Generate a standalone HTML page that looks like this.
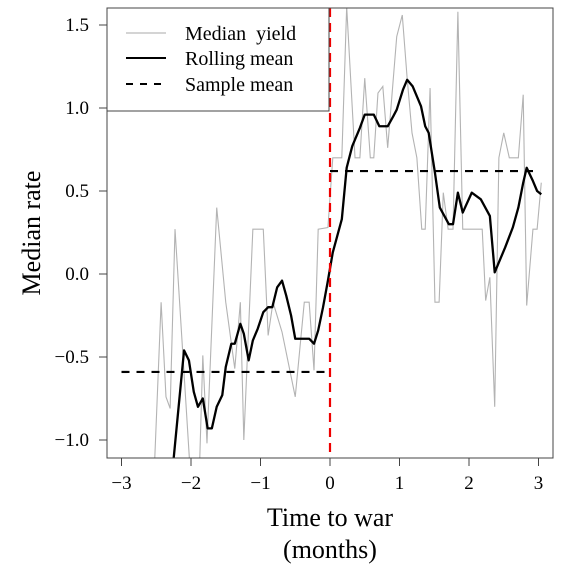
<!DOCTYPE html>
<html><head><meta charset="utf-8"><style>
html,body{margin:0;padding:0;background:#fff;}
svg{display:block;font-family:"Liberation Serif",serif;}
</style></head><body>
<svg id="chart" width="567" height="567" viewBox="0 0 567 567">
<defs><clipPath id="pc"><rect x="107" y="8" width="446" height="450"/></clipPath></defs>
<g id="marks" clip-path="url(#pc)"></g>
<rect x="107" y="8" width="446" height="450" fill="none" stroke="#444" stroke-width="1"/>
<g id="axes"></g>
<text x="330" y="526" font-size="26" text-anchor="middle">Time to war</text>
<text x="330" y="558" font-size="26" text-anchor="middle">(months)</text>
<text transform="translate(40,233) rotate(-90)" font-size="26" text-anchor="middle">Median rate</text>
<g>
<rect x="107" y="8" width="222" height="103" fill="#fff" stroke="#444" stroke-width="1"/>
<line x1="126" y1="33" x2="166" y2="33" stroke="#aaa" stroke-width="1"/>
<text x="185" y="40" font-size="20">Median&#160; yield</text>
<line x1="126" y1="58" x2="166" y2="58" stroke="#000" stroke-width="2"/>
<text x="185" y="65" font-size="20">Rolling mean</text>
<line x1="126" y1="84" x2="166" y2="84" stroke="#000" stroke-width="2" stroke-dasharray="7,7"/>
<text x="185" y="91" font-size="20">Sample mean</text>
</g>
</svg>
<script>
const medianX=[-2.53,-2.43,-2.36,-2.30,-2.23,-2.01,-1.88,-1.83,-1.77,-1.63,-1.50,-1.37,-1.29,-1.24,-1.11,-0.96,-0.89,-0.82,-0.69,-0.50,-0.37,-0.30,-0.23,-0.17,-0.03,0.04,0.17,0.24,0.36,0.43,0.50,0.58,0.63,0.69,0.76,0.83,0.96,1.04,1.11,1.18,1.25,1.32,1.37,1.44,1.51,1.57,1.63,1.70,1.77,1.84,1.91,2.19,2.24,2.30,2.37,2.43,2.50,2.58,2.71,2.78,2.83,2.92,2.98,3.04];
const medianY=[-1.2,-0.17,-0.74,-0.81,0.27,-1.2,-1.2,-0.49,-1.02,0.40,-0.17,-0.57,-0.17,-1.00,0.27,0.27,-0.37,-0.17,-0.35,-0.74,-0.17,-0.17,-0.58,0.27,0.28,0.70,0.70,1.61,0.70,0.70,1.18,0.70,0.70,1.09,1.13,0.76,1.43,1.56,1.18,0.85,0.70,0.27,0.27,1.12,-0.17,-0.17,0.49,0.27,0.27,1.58,0.27,0.27,-0.16,-0.02,-0.80,0.70,0.85,0.70,0.70,1.08,-0.19,0.27,0.27,0.55];
const rollX=[-2.27,-2.10,-2.03,-1.96,-1.90,-1.83,-1.76,-1.70,-1.63,-1.55,-1.50,-1.42,-1.37,-1.29,-1.24,-1.17,-1.11,-1.04,-0.96,-0.89,-0.83,-0.76,-0.69,-0.63,-0.56,-0.50,-0.30,-0.23,-0.17,-0.10,-0.03,0.04,0.17,0.24,0.32,0.43,0.50,0.63,0.71,0.83,0.91,0.96,1.05,1.11,1.19,1.31,1.37,1.42,1.51,1.58,1.71,1.77,1.84,1.91,2.04,2.17,2.30,2.37,2.52,2.63,2.71,2.78,2.83,2.92,2.98,3.04];
const rollY=[-1.2,-0.46,-0.52,-0.71,-0.80,-0.75,-0.93,-0.93,-0.80,-0.73,-0.56,-0.42,-0.42,-0.30,-0.36,-0.52,-0.40,-0.33,-0.23,-0.20,-0.20,-0.08,-0.04,-0.13,-0.25,-0.39,-0.39,-0.42,-0.34,-0.20,-0.04,0.13,0.33,0.64,0.77,0.88,0.96,0.96,0.89,0.89,0.95,0.99,1.11,1.17,1.13,1.01,0.89,0.85,0.61,0.40,0.30,0.30,0.49,0.37,0.49,0.45,0.35,0.01,0.16,0.28,0.40,0.55,0.64,0.56,0.50,0.48];
const meanStart=[-3,0];
const meanEnd=[0,3];
const meanVal=[-0.59,0.62];
const xTicks=[-3,-2,-1,0,1,2,3];
const xTickLabels=["\u22123","\u22122","\u22121","0","1","2","3"];
const yTicks=[-1.0,-0.5,0.0,0.5,1.0,1.5];
const yTickLabels=["\u22121.0","\u22120.5","0.0","0.5","1.0","1.5"];
const NS="http://www.w3.org/2000/svg";
function xs(v){return 330+69.5*v;}
function ys(v){return 274-166*v;}
function mk(tag,attrs,parent){const e=document.createElementNS(NS,tag);for(const k in attrs)e.setAttribute(k,attrs[k]);parent.appendChild(e);return e;}
const marks=document.getElementById('marks');
const axes=document.getElementById('axes');
let g=mk('polyline',{points:medianX.map((x,i)=>xs(x)+','+ys(medianY[i])).join(' '),fill:'none',stroke:'#b3b3b3','stroke-width':1.1},marks);


meanVal.forEach((v,i)=>{
  const l=mk('line',{x1:xs(meanStart[i]),x2:xs(meanEnd[i]),y1:ys(v),y2:ys(v),stroke:'#000','stroke-width':2.2,'stroke-dasharray':'8,7'},marks);
  
  
});
let r=mk('polyline',{points:rollX.map((x,i)=>xs(x)+','+ys(rollY[i])).join(' '),fill:'none',stroke:'#000','stroke-width':2.3,'stroke-linejoin':'round'},marks);


let red=mk('line',{x1:xs(0),x2:xs(0),y1:8,y2:458,stroke:'#e00','stroke-width':2.2,'stroke-dasharray':'9,6'},marks);


xTicks.forEach((v,i)=>{
  const t=mk('line',{x1:xs(v),x2:xs(v),y1:458,y2:466,stroke:'#444'},axes);
  
  
  const tx=mk('text',{x:xs(v),y:489,'font-size':19,'text-anchor':'middle'},axes);
  tx.textContent=xTickLabels[i];
  
  
});
yTicks.forEach((v,i)=>{
  const t=mk('line',{x1:99,x2:107,y1:ys(v),y2:ys(v),stroke:'#444'},axes);
  
  
  const tx=mk('text',{x:89,y:ys(v)+6,'font-size':19,'text-anchor':'end'},axes);
  tx.textContent=yTickLabels[i];
  
  
});
</script>
</body></html>
